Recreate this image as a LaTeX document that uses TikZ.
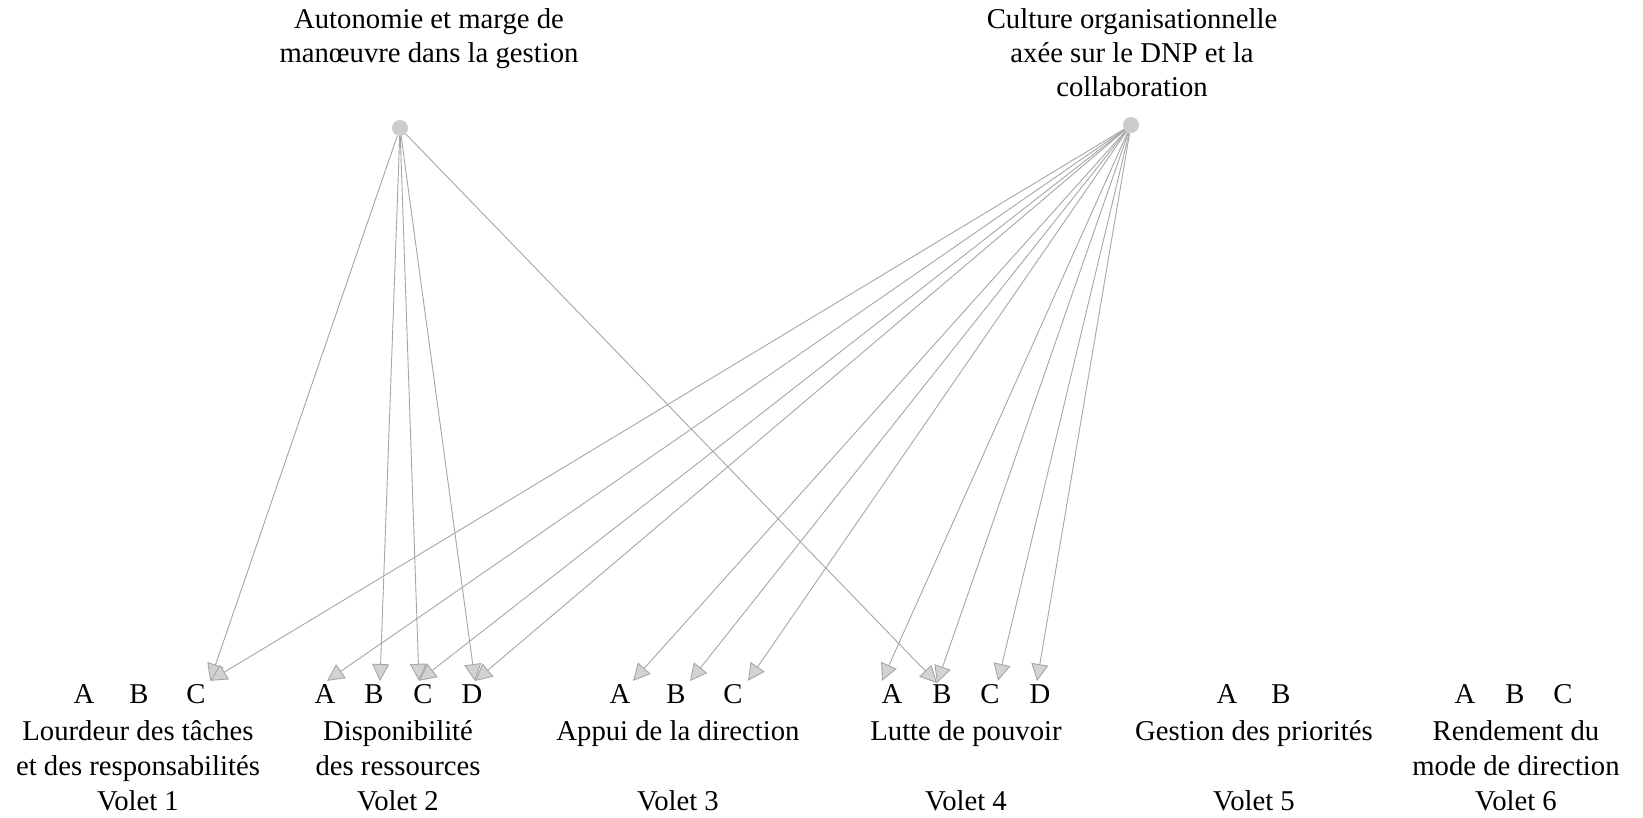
\documentclass[tikz,border=0pt]{standalone}
\usepackage{fontspec}
\setmainfont{Liberation Serif}
\usetikzlibrary{arrows.meta}
\begin{document}
\begin{tikzpicture}[x=1pt,y=-1pt,
  lbl/.style={font=\fontsize{28.7}{35}\selectfont, align=center, inner sep=0pt, anchor=base},
  toplbl/.style={font=\fontsize{28.7}{34}\selectfont, align=center, inner sep=0pt, anchor=base},
  letter/.style={font=\fontsize{28.7}{35}\selectfont, inner sep=0pt, anchor=base},
  src/.style={circle, fill=gray!40, minimum size=16pt, inner sep=0pt},
  link/.style={draw=gray!70, line width=0.9pt, -{Triangle[length=17pt,width=17pt,fill=gray!35]}}]
\useasboundingbox (0,0) rectangle (1643,817);

% top labels and source dots (anchor base = last line)
\node[toplbl] (auto) at (429,62) {Autonomie et marge de\\manœuvre dans la gestion};
\node[toplbl] (cult) at (1132,96) {Culture organisationnelle\\axée sur le DNP et la\\collaboration};
\node[src] (s1) at (400,128) {};
\node[src] (s2) at (1131,125) {};

% letters
\node[letter] (v1a) at (84,703) {A};
\node[letter] (v1b) at (139,703) {B};
\node[letter] (v1c) at (196,703) {C};
\node[letter] (v2a) at (325,703) {A};
\node[letter] (v2b) at (374,703) {B};
\node[letter] (v2c) at (423,703) {C};
\node[letter] (v2d) at (472,703) {D};
\node[letter] (v3a) at (620,703) {A};
\node[letter] (v3b) at (676,703) {B};
\node[letter] (v3c) at (733,703) {C};
\node[letter] (v4a) at (892,703) {A};
\node[letter] (v4b) at (942,703) {B};
\node[letter] (v4c) at (990,703) {C};
\node[letter] (v4d) at (1040,703) {D};
\node[letter] (v5a) at (1227,703) {A};
\node[letter] (v5b) at (1281,703) {B};
\node[letter] (v6a) at (1465,703) {A};
\node[letter] (v6b) at (1515,703) {B};
\node[letter] (v6c) at (1563,703) {C};

% volet labels (anchor base = last line)
\node[lbl] (vol1) at (138,810) {Lourdeur des tâches\\et des responsabilités\\Volet 1};
\node[lbl] (vol2) at (398,810) {Disponibilité\\des ressources\\Volet 2};
\node[lbl] (vol3) at (678,810) {Appui de la direction\\[35pt]Volet 3};
\node[lbl] (vol4) at (966,810) {Lutte de pouvoir\\[35pt]Volet 4};
\node[lbl] (vol5) at (1254,810) {Gestion des priorités\\[35pt]Volet 5};
\node[lbl] (vol6) at (1516,810) {Rendement du\\mode de direction\\Volet 6};

% connectors from Autonomie
\draw[link] (s1) -- ([xshift=14pt,yshift=3pt]v1c.north);
\draw[link] (s1) -- ([xshift=6pt,yshift=3pt]v2b.north);
\draw[link] (s1) -- ([xshift=-4pt,yshift=3pt]v2c.north);
\draw[link] (s1) -- ([xshift=3pt,yshift=3pt]v2d.north);
\draw[link] (s1) -- ([xshift=-5pt,yshift=1pt]v4b.north);

% connectors from Culture
\draw[link] (s2) -- ([xshift=14pt,yshift=3pt]v1c.north);
\draw[link] (s2) -- ([xshift=2pt,yshift=3pt]v2a.north);
\draw[link] (s2) -- ([xshift=-4pt,yshift=3pt]v2c.north);
\draw[link] (s2) -- ([xshift=3pt,yshift=3pt]v2d.north);
\draw[link] (s2) -- ([xshift=13pt,yshift=3pt]v3a.north);
\draw[link] (s2) -- ([xshift=14pt,yshift=3pt]v3b.north);
\draw[link] (s2) -- ([xshift=15pt,yshift=3pt]v3c.north);
\draw[link] (s2) -- ([xshift=-10pt,yshift=3pt]v4a.north);
\draw[link] (s2) -- ([xshift=-5pt,yshift=1pt]v4b.north);
\draw[link] (s2) -- ([xshift=8pt,yshift=3pt]v4c.north);
\draw[link] (s2) -- ([xshift=-3pt,yshift=3pt]v4d.north);
\end{tikzpicture}
\end{document}
